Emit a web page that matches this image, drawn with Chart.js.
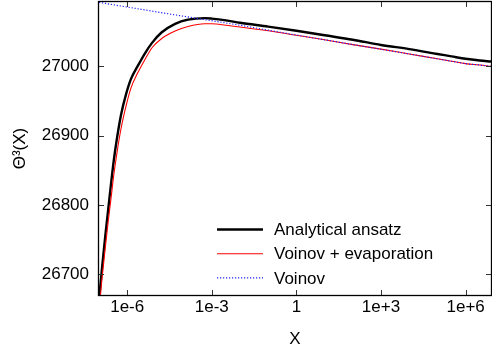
<!DOCTYPE html>
<html>
<head>
<meta charset="utf-8">
<script src="https://cdn.jsdelivr.net/npm/chart.js@4/dist/chart.umd.min.js"></script>
<style>
  html, body { margin: 0; padding: 0; background: #fff; }
  #wrap { width: 492px; height: 352px; }
</style>
</head>
<body>
<div id="wrap"><canvas id="chart"></canvas></div>
<script>
// log10(X) sample positions
const logX = [-7, -6.965, -6.93, -6.895, -6.84, -6.77, -6.68, -6.575, -6.47, -6.36, -6.22, -6.04, -5.865, -5.635, -5.37, -5.12, -4.785, -4.3, -3.845, -3.25, -3.0, -2.5, -2.0, -1.0, 0, 1, 2, 3, 4, 5, 5.5, 6, 6.5, 6.9];

const ansatz = [26662, 26678, 26693, 26708, 26730, 26758, 26791, 26830, 26866, 26897, 26930, 26960, 26982, 27000, 27019, 27034, 27049, 27061.5, 27067.5, 27069.7, 27069, 27066.5, 27063, 27057.5, 27051.5, 27045, 27038.5, 27031, 27025, 27018, 27014.5, 27011, 27008.5, 27007];

const voinovEvap = [26645, 26662, 26678, 26693, 26714, 26741, 26774, 26809, 26845, 26876, 26910, 26943, 26969, 26990, 27010, 27027, 27040, 27051, 27057.5, 27061.5, 27061.5, 27059.5, 27057, 27051.5, 27045, 27038.5, 27031.5, 27025, 27018, 27011, 27007.5, 27004, 27002, 27000];

const voinov = [27092.5, 27092.3, 27092.0, 27091.8, 27091.4, 27090.9, 27090.3, 27089.6, 27088.9, 27088.1, 27087.2, 27086.0, 27084.8, 27083.3, 27081.5, 27079.9, 27077.6, 27074.4, 27071.4, 27067.5, 27066, 27062.7, 27059.4, 27052.3, 27045.2, 27038.4, 27031.6, 27024.8, 27018, 27011, 27007.5, 27004, 27002, 27000];

const xTicks = [1e-6, 1e-3, 1, 1e3, 1e6];
const xTickLabels = ['1e-6', '1e-3', '1', '1e+3', '1e+6'];
const yTicks = [26700, 26800, 26900, 27000];

const FONT = 'Liberation Sans, Arial, Helvetica, sans-serif';

const toPoints = (ys) => ys.map((y, i) => ({ x: Math.pow(10, logX[i]), y }));

const frame = {
    id: 'frame',
    afterDatasetsDraw(chart) {
        const { ctx, chartArea: a, scales } = chart;
        ctx.save();
        // inward ticks on all four sides
        ctx.strokeStyle = '#333';
        ctx.lineWidth = 1;
        ctx.beginPath();
        xTicks.forEach((v) => {
            const px = Math.round(scales.x.getPixelForValue(v)) + 0.5;
            ctx.moveTo(px, a.bottom); ctx.lineTo(px, a.bottom - 5);
            ctx.moveTo(px, a.top); ctx.lineTo(px, a.top + 5);
        });
        yTicks.forEach((v) => {
            const py = Math.round(scales.y.getPixelForValue(v)) + 0.5;
            ctx.moveTo(a.left, py); ctx.lineTo(a.left + 5, py);
            ctx.moveTo(a.right, py); ctx.lineTo(a.right - 5, py);
        });
        ctx.stroke();
        ctx.strokeStyle = '#000';
        ctx.lineWidth = 1.3;
        ctx.strokeRect(a.left - 0.5, a.top - 0.5, a.right - a.left + 1, a.bottom - a.top + 1);

        // legend, bottom right inside the plot
        const rows = chart.data.datasets;
        ctx.font = '17px ' + FONT;
        ctx.textBaseline = 'middle';
        ctx.fillStyle = '#000';
        rows.forEach((ds, i) => {
            const y = a.bottom - 65.5 + i * 24.2;
            ctx.strokeStyle = ds.borderColor;
            ctx.lineWidth = ds.legendWidth;
            ctx.setLineDash(ds.borderDash || []);
            ctx.beginPath();
            ctx.moveTo(a.left + 118, y);
            ctx.lineTo(a.left + 164, y);
            ctx.stroke();
            ctx.setLineDash([]);
            ctx.fillText(ds.label, a.left + 175, y + 1);
        });
        ctx.restore();
    }
};

new Chart(document.getElementById('chart'), {
    type: 'line',
    data: {
        datasets: [
            { label: 'Analytical ansatz', data: toPoints(ansatz), borderColor: '#000000', borderWidth: 2.4, legendWidth: 2.4, order: 3 },
            { label: 'Voinov + evaporation', data: toPoints(voinovEvap), borderColor: '#ff0000', borderWidth: 1.1, legendWidth: 1.1, order: 2 },
            { label: 'Voinov', data: toPoints(voinov), borderColor: '#2020ff', borderWidth: 1.2, legendWidth: 1.2, borderDash: [1.2, 1.8], order: 1 },
        ],
    },
    options: {
        responsive: true,
        maintainAspectRatio: false,
        animation: false,
        layout: { padding: { top: 2, right: 1, left: 0, bottom: 0 } },
        elements: { point: { radius: 0 }, line: { cubicInterpolationMode: 'monotone', fill: false } },
        plugins: { legend: { display: false }, tooltip: { enabled: false } },
        scales: {
            x: {
                type: 'logarithmic',
                min: 1e-7,
                max: Math.pow(10, 6.9),
                afterBuildTicks: (s) => { s.ticks = xTicks.map((v) => ({ value: v })); },
                afterFit: (s) => { s.height = 57; s.paddingLeft = 0; s.paddingRight = 0; },
                grid: { display: false, drawTicks: false },
                border: { display: false },
                ticks: {
                    color: '#000',
                    padding: 2,
                    maxRotation: 0,
                    autoSkip: false,
                    font: { family: FONT, size: 17 },
                    callback: (v) => { const i = xTicks.indexOf(v); return i >= 0 ? xTickLabels[i] : ''; },
                },
                title: { display: true, text: 'X', color: '#000', font: { family: FONT, size: 17 }, padding: { top: 0, bottom: 2 } },
            },
            y: {
                min: 26670,
                max: 27093,
                afterBuildTicks: (s) => { s.ticks = yTicks.map((v) => ({ value: v })); },
                afterFit: (s) => { s.width = 99; s.paddingTop = 0; s.paddingBottom = 0; },
                grid: { display: false, drawTicks: false },
                border: { display: false },
                ticks: { color: '#000', padding: 10, font: { family: FONT, size: 17 }, callback: (v) => String(v) },
                title: { display: true, text: 'Θ³(X)', color: '#000', font: { family: FONT, size: 17 }, padding: { top: 10, bottom: 0 } },
            },
        },
    },
    plugins: [frame],
});
</script>
</body>
</html>
